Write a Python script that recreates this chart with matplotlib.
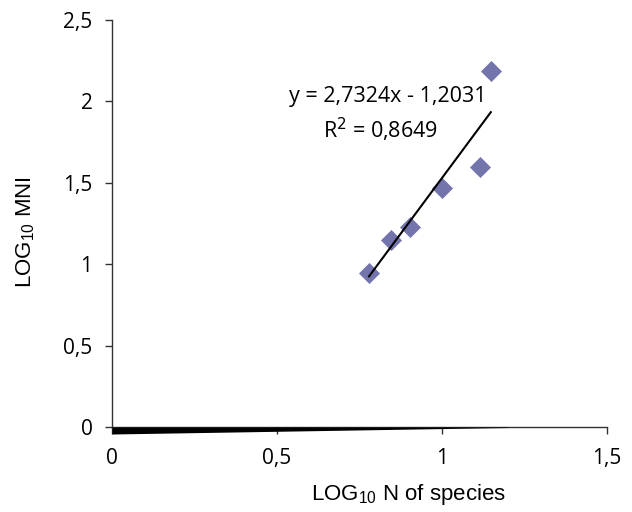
import matplotlib
matplotlib.use("Agg")
import matplotlib.pyplot as plt
import numpy as np

log_species = [0.779, 0.845, 0.903, 1.0, 1.115, 1.148]
log_mni = [0.948, 1.149, 1.229, 1.470, 1.599, 2.189]
slope = 2.7324
intercept = -1.2031
r2 = 0.8649
xticks = [0, 0.5, 1, 1.5]
xtick_labels = ["0", "0,5", "1", "1,5"]
yticks = [0, 0.5, 1, 1.5, 2, 2.5]
ytick_labels = ["0", "0,5", "1", "1,5", "2", "2,5"]

fig = plt.figure(figsize=(6.32, 5.12), dpi=100)
ax = fig.add_axes([0.1772, 0.166, 0.7832, 0.795])
ax.set_xlim(0, 1.5)
ax.set_ylim(0, 2.5)

ax.scatter(log_species, log_mni, marker="D", s=115, color="#7474AC", zorder=3, linewidths=0)

xs = np.array([min(log_species), max(log_species)])
ax.plot(xs, slope * xs + intercept, color="black", lw=1.5, zorder=4)

# thick wedge artifact along the x axis
wx = np.array([0.0, 1.2])
ax.fill_between(wx, [0, 0], [-0.043, -0.003], color="black", clip_on=False, zorder=5, lw=0)

eq = "y = " + f"{slope:.4f}".replace(".", ",") + "x - " + f"{-intercept:.4f}".replace(".", ",")
ax.text(0.836, 2.03, eq, fontsize=15.5, family="Open Sans", ha="center", va="center")
ax.text(0.815, 1.825, "R$^2$ = " + f"{r2:.4f}".replace(".", ","), fontsize=15.5, family="Open Sans",
        ha="center", va="center")

for s in ["top", "right"]:
    ax.spines[s].set_visible(False)
for s in ["left", "bottom"]:
    ax.spines[s].set_color("#333333")
    ax.spines[s].set_linewidth(1.0)

ax.set_xticks(xticks)
ax.set_xticklabels(xtick_labels)
ax.set_yticks(yticks)
ax.set_yticklabels(ytick_labels)
ax.tick_params(direction="out", length=5, width=1, color="#333333", labelsize=15)
for lab in ax.get_xticklabels() + ax.get_yticklabels():
    lab.set_family("Open Sans")
ax.tick_params(axis="x", pad=10)
ax.tick_params(axis="y", pad=9)

ax.set_xlabel(r"LOG$_{\mathregular{10}}$ N of species", fontsize=16, family="Liberation Sans")
ax.set_ylabel(r"LOG$_{\mathregular{10}}$ MNI", fontsize=16, family="Liberation Sans")
ax.xaxis.set_label_coords(0.6, -0.135)
ax.yaxis.set_label_coords(-0.152, 0.478)

fig.savefig("out.png", dpi=100)
